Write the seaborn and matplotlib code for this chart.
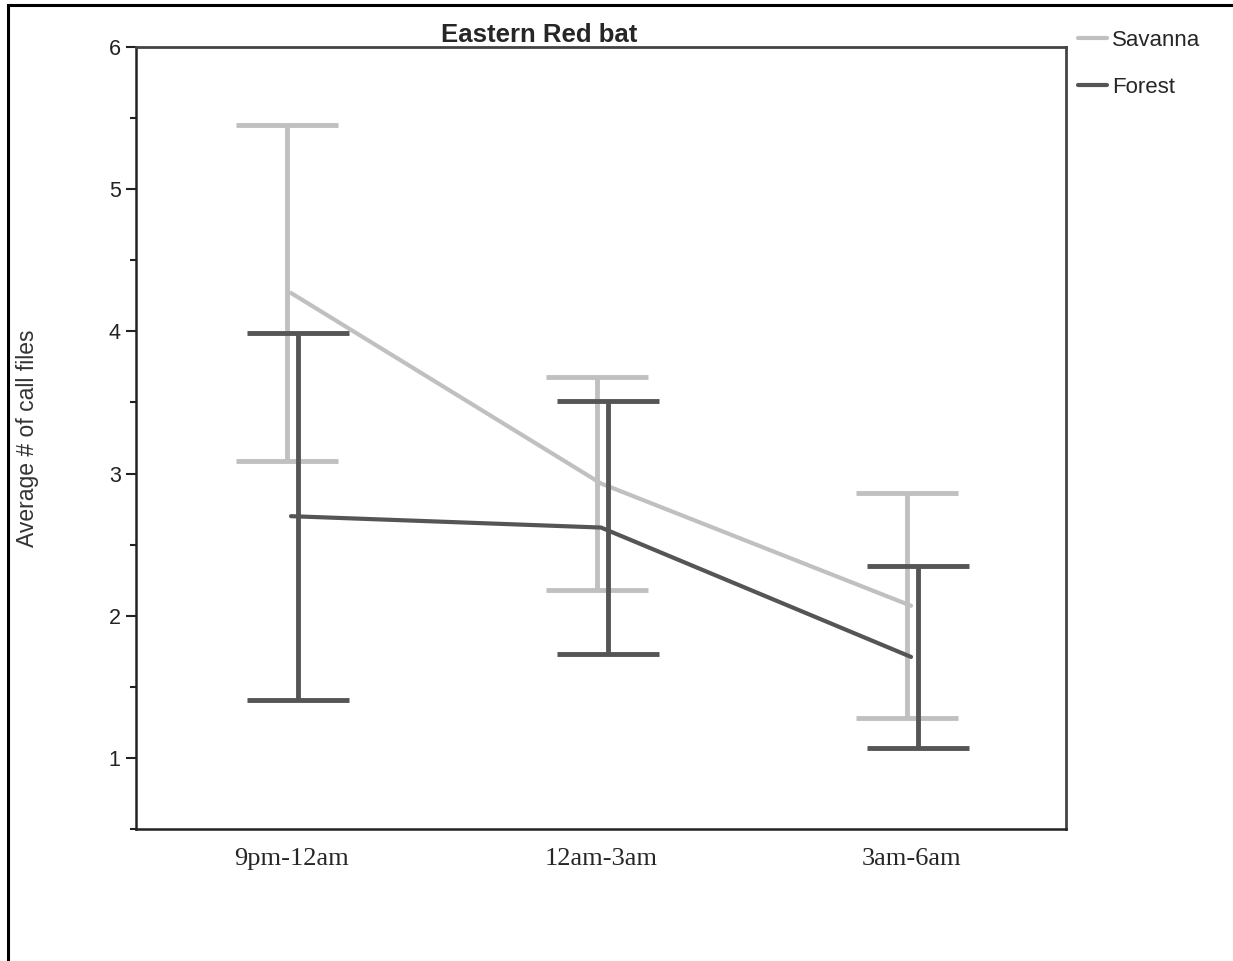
import pandas as pd
import seaborn as sns
import matplotlib.pyplot as plt
from matplotlib.patches import Rectangle

# Average number of call files per time period (mean and error bar half-width)
periods = ["9pm-12am", "12am-3am", "3am-6am"]
habitats = ["Savanna", "Forest"]
savanna_mean = [4.27, 2.93, 2.07]
savanna_err = [1.18, 0.75, 0.79]
forest_mean = [2.70, 2.62, 1.71]
forest_err = [1.29, 0.89, 0.64]

colors = {"Savanna": "#c0c0c0", "Forest": "#555555"}
bar_offset = {"Savanna": -0.013, "Forest": 0.023}

df = pd.DataFrame({
    "period": periods * 2,
    "habitat": ["Savanna"] * 3 + ["Forest"] * 3,
    "mean": savanna_mean + forest_mean,
    "err": savanna_err + forest_err,
})
df["pos"] = df["period"].map({p: i for i, p in enumerate(periods)})

sns.set_style("ticks")
plt.rcParams["font.family"] = ["Liberation Sans", "DejaVu Sans"]

fig = plt.figure(figsize=(12.33, 9.61), dpi=100)
ax = fig.add_axes([0.1103, 0.1374, 0.7543, 0.8137])

# error bars first, lines on top
for h in habitats:
    sub = df[df["habitat"] == h]
    ax.errorbar(sub["pos"] + bar_offset[h], sub["mean"], yerr=sub["err"],
                fmt="none", ecolor=colors[h], elinewidth=3.5,
                capsize=37, capthick=3.5, zorder=2 if h == "Savanna" else 4)

sns.lineplot(data=df, x="pos", y="mean", hue="habitat", hue_order=habitats,
             palette=colors, linewidth=3, ax=ax, zorder=3)

ax.set_xlim(-0.5, 2.5)
ax.set_ylim(0.5, 6)
ax.set_xticks(range(len(periods)))
ax.set_xticklabels(periods, family=["Liberation Serif", "DejaVu Serif"], fontsize=19)
ax.tick_params(axis="x", length=0, pad=14)
ax.set_yticks([1, 2, 3, 4, 5, 6])
ax.set_yticks([0.5, 1.5, 2.5, 3.5, 4.5, 5.5], minor=True)
ax.tick_params(axis="y", which="major", length=7, width=1.5, labelsize=15.5,
               labelcolor="#222222", color="#222222", pad=4)
ax.tick_params(axis="y", which="minor", length=4, width=1.5, color="#222222")
ax.set_xlabel("")
ax.set_ylabel("Average # of call files", fontsize=16.5, color="#333333", labelpad=50)

for side in ["left", "bottom"]:
    ax.spines[side].set_color("#222222")
    ax.spines[side].set_linewidth(1.8)
for side in ["top", "right"]:
    ax.spines[side].set_visible(True)
    ax.spines[side].set_color("#444444")
    ax.spines[side].set_linewidth(2)

ax.set_title("Eastern Red bat", fontsize=18.5, fontweight="bold", x=0.434, pad=1)

handles, labels = ax.get_legend_handles_labels()
ax.legend(handles, labels, loc="upper left", frameon=False,
          bbox_to_anchor=(1078 / 1233, 1 - 30 / 961), bbox_transform=fig.transFigure,
          borderaxespad=0, borderpad=0, fontsize=16, handlelength=1.3,
          handletextpad=0.25, labelspacing=1.15)

# outer frame (only top and left edges show in the original crop)
fig.patches.append(Rectangle((8 / 1233, -0.1), 1.2, 1.1 - 5 / 961, fill=False,
                             edgecolor="black", linewidth=2.2,
                             transform=fig.transFigure, figure=fig))

fig.savefig("out.png", dpi=100)
